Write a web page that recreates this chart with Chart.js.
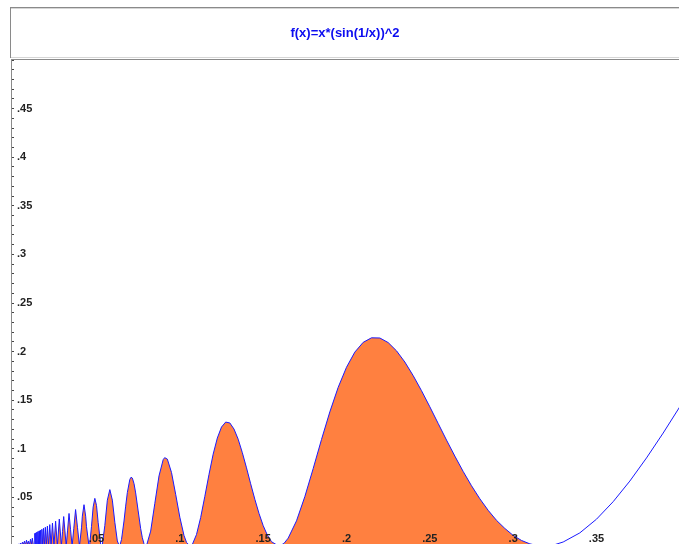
<!DOCTYPE html>
<html>
<head>
<meta charset="utf-8">
<script src="https://cdn.jsdelivr.net/npm/chart.js@4.4.1/dist/chart.umd.min.js"></script>
<style>
  html, body { margin: 0; padding: 0; background: #fff; overflow: hidden; }
  canvas { display: block; }
</style>
</head>
<body>
<canvas id="plot" width="679" height="560"></canvas>
<script>
const titleText = "f(x)=x*(sin(1/x))^2";

// filled part of the curve, x from 0 up to the zero near .318
const fillX = [0, 0.001, 0.002, 0.003, 0.0038, 0.0044, 0.005, 0.0056, 0.0062, 0.0068, 0.0074, 0.008,
  0.0086, 0.0092, 0.0098, 0.0104, 0.011, 0.0115, 0.0121, 0.0127, 0.013, 0.01326, 0.01354, 0.01384,
  0.01415, 0.01447, 0.01481, 0.01516, 0.01553, 0.01592, 0.01632, 0.01675, 0.01721, 0.01768, 0.01819,
  0.01872, 0.01929, 0.01989, 0.02054, 0.02122, 0.02195, 0.02274, 0.02358, 0.02449, 0.02546, 0.02653,
  0.02768, 0.02894, 0.02961, 0.03032, 0.03105, 0.03183, 0.03265, 0.03351, 0.03441, 0.03537, 0.03638,
  0.03745, 0.03858, 0.03979, 0.041, 0.0415, 0.0425, 0.0435, 0.044, 0.0455, 0.046, 0.047, 0.048, 0.049,
  0.05, 0.051, 0.0525, 0.0531, 0.0535, 0.055, 0.0565, 0.058, 0.0595, 0.061, 0.0625, 0.0637, 0.064,
  0.065, 0.0665, 0.0675, 0.0685, 0.07, 0.0707, 0.0715, 0.0725, 0.0735, 0.075, 0.0765, 0.0775, 0.0785,
  0.0796, 0.08, 0.0825, 0.085, 0.0875, 0.09, 0.0909, 0.0925, 0.095, 0.0975, 0.1, 0.1025, 0.104, 0.1061,
  0.1075, 0.11, 0.1125, 0.115, 0.1175, 0.12, 0.1225, 0.125, 0.1275, 0.13, 0.1325, 0.135, 0.1375, 0.14,
  0.1425, 0.145, 0.1475, 0.15, 0.1525, 0.155, 0.1592, 0.16, 0.1625, 0.165, 0.17, 0.175, 0.18, 0.185,
  0.19, 0.195, 0.2, 0.205, 0.21, 0.215, 0.22, 0.225, 0.23, 0.235, 0.24, 0.245, 0.25, 0.255, 0.26, 0.265,
  0.27, 0.275, 0.28, 0.285, 0.29, 0.295, 0.3, 0.305, 0.31, 0.315, 0.3183];
const fillY = [0, 0.001, 0, 0.002, 0.001, 0.003, 0.001, 0.004, 0.002, 0.005, 0.001, 0.006,
  0.002, 0.005, 0.001, 0.007, 0.002, 0.008, 0.001, 0, 0.013, 0, 0.0135, 0,
  0.0142, 0, 0.0148, 0, 0.0155, 0, 0.0163, 0, 0.0172, 0, 0.0182,
  0, 0.0193, 0, 0.0205, 0, 0.022, 0, 0.0236, 0, 0.0255, 0,
  0.0277, 0, 0.0148, 0.0303, 0.0155, 0, 0.0163, 0.0335, 0.0172, 0, 0.0182,
  0.0375, 0.0193, 0, 0.0187, 0.0307, 0.0425, 0.0307, 0.0198, 0, 0.0029, 0.0202, 0.0402, 0.049,
  0.0417, 0.0241, 0.002, 0, 0.0013, 0.0211, 0.0471, 0.058, 0.0472, 0.0244, 0.0052, 0, 0.0004,
  0.0066, 0.0257, 0.041, 0.0549, 0.0685, 0.0707, 0.0699, 0.0642, 0.0546, 0.0361, 0.0179, 0.0085, 0.0023,
  0, 0.0004, 0.0153, 0.0439, 0.0721, 0.0888, 0.0909, 0.0894, 0.0756, 0.0532, 0.0296, 0.0108, 0.0037, 0,
  0.0016, 0.0118, 0.0293, 0.0511, 0.0737, 0.0945, 0.1111, 0.1224, 0.1275, 0.1266, 0.1203, 0.1099, 0.096, 0.0804,
  0.064, 0.0481, 0.0335, 0.021, 0.0112, 0.0044, 0, 0.0002, 0.0027, 0.0081, 0.0259, 0.0508, 0.0796, 0.1096,
  0.138, 0.1632, 0.1839, 0.1995, 0.2095, 0.2142, 0.214, 0.2093, 0.2008, 0.1893, 0.1753, 0.1598, 0.1432, 0.1261, 0.109, 0.0925,
  0.0767, 0.062, 0.0486, 0.0367, 0.0264, 0.0181, 0.0109, 0.0057, 0.0022, 0.0003, 0];

// unfilled tail of the curve
const tailX = [0.3183, 0.325, 0.33, 0.34, 0.35, 0.36, 0.37, 0.38, 0.39, 0.4, 0.41];
const tailY = [0, 0.0014, 0.0041, 0.0135, 0.0276, 0.0456, 0.0668, 0.0906, 0.1162, 0.1433, 0.1712];

const xTickValues = [0.05, 0.1, 0.15, 0.2, 0.25, 0.3, 0.35];
const xTickLabels = [".05", ".1", ".15", ".2", ".25", ".3", ".35"];
const yTickValues = [0.05, 0.1, 0.15, 0.2, 0.25, 0.3, 0.35, 0.4, 0.45];
const yTickLabels = [".05", ".1", ".15", ".2", ".25", ".3", ".35", ".4", ".45"];
const yMinorStep = 0.01;

function tickLabel(value, values, labels) {
  const i = values.findIndex(v => Math.abs(v - value) < 1e-9);
  return i < 0 ? "" : labels[i];
}

const tickFont = { family: "Arial", size: 11, weight: "bold" };

// grey frames of the title box and the plot area
const framePlugin = {
  id: "frame",
  beforeDraw(chart) {
    const { ctx, chartArea: a } = chart;
    ctx.save();
    ctx.fillStyle = "#8a8a8a";
    ctx.fillRect(a.left - 1, 7, chart.width, 1);
    ctx.fillRect(a.left - 1, 7, 1, a.top - 9);
    ctx.fillRect(a.left, a.top - 1, chart.width, 1);
    ctx.fillStyle = "#d6d6d6";
    ctx.fillRect(a.left, 8, chart.width, 1);
    ctx.fillRect(a.left, a.top - 3, chart.width, 1);
    ctx.restore();
  }
};

const ctx = document.getElementById("plot").getContext("2d");

new Chart(ctx, {
  type: "line",
  data: {
    datasets: [
      {
        data: fillX.map((x, i) => ({ x: x, y: fillY[i] })),
        borderColor: "#1a1aff",
        backgroundColor: "rgb(255,128,64)",
        fill: "origin"
      },
      {
        data: tailX.map((x, i) => ({ x: x, y: tailY[i] })),
        borderColor: "#1a1aff",
        fill: false
      }
    ]
  },
  options: {
    responsive: false,
    animation: false,
    layout: { padding: { left: 11, right: 0, top: 0, bottom: 14 } },
    elements: {
      point: { radius: 0 },
      line: { borderWidth: 1, tension: 0 }
    },
    plugins: {
      legend: { display: false },
      tooltip: { enabled: false },
      title: {
        display: true,
        text: titleText,
        color: "#0c0cf0",
        font: { family: "Arial", size: 13, weight: "bold" },
        padding: { top: 26, bottom: 18.4 }
      }
    },
    scales: {
      x: {
        type: "linear",
        min: -0.0013,
        max: 0.3995,
        grid: { display: false, drawTicks: false },
        border: { display: false },
        afterBuildTicks: s => { s.ticks = xTickValues.map(v => ({ value: v })); },
        afterFit: s => { s.height = 0; s.paddingLeft = 0; s.paddingRight = 0; },
        ticks: {
          z: 1,
          mirror: true,
          padding: 0,
          autoSkip: false,
          maxRotation: 0,
          color: "#222",
          font: tickFont,
          callback: v => tickLabel(v, xTickValues, xTickLabels)
        }
      },
      y: {
        min: 0,
        max: 0.5,
        grid: { drawOnChartArea: false, drawTicks: true, tickLength: -3, tickColor: "#444" },
        border: { color: "#8a8a8a", width: 1 },
        afterBuildTicks: s => {
          const t = [];
          for (let i = 0; i <= 50; i++) t.push({ value: i * yMinorStep });
          s.ticks = t;
        },
        afterFit: s => { s.width = 0; s.paddingTop = 0; s.paddingBottom = 0; },
        ticks: {
          mirror: true,
          padding: 6,
          autoSkip: false,
          color: "#222",
          font: tickFont,
          callback: v => tickLabel(v, yTickValues, yTickLabels)
        }
      }
    }
  },
  plugins: [framePlugin]
});
</script>
</body>
</html>
